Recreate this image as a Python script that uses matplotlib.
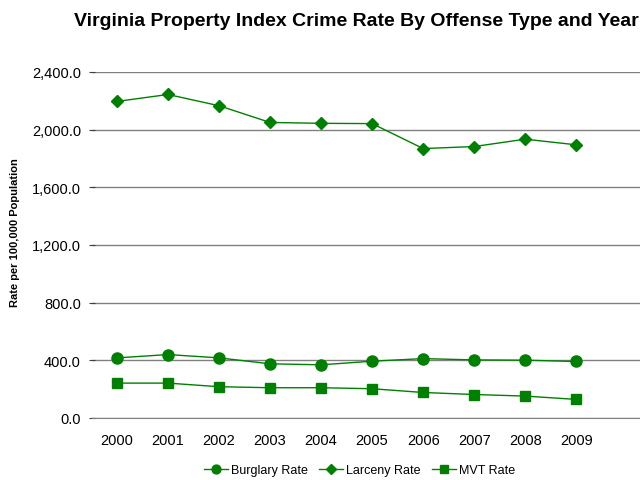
import numpy as np
import matplotlib.pyplot as plt

plt.rcParams['font.family'] = ['Liberation Sans', 'DejaVu Sans']

# Данные
years = ['2000', '2001', '2002', '2003', '2004', '2005', '2006', '2007', '2008', '2009']
burglary = [417, 440, 417, 376, 369, 394, 412, 403, 401, 392]
larceny = [2196, 2244, 2166, 2050, 2044, 2042, 1869, 1883, 1934, 1895]
mvt = [242, 242, 217, 210, 210, 203, 177, 163, 152, 129]
y_ticks = [0, 400, 800, 1200, 1600, 2000, 2400]

green = '#008000'

fig = plt.figure(figsize=(6.4, 4.81), dpi=100)
ax = fig.add_axes([92 / 640, 62 / 481, 548 / 640, 346 / 481])

x = np.arange(len(years))
ax.plot(x, burglary, color=green, lw=1, marker='o', ms=8, label='Burglary Rate')
ax.plot(x, larceny, color=green, lw=1, marker='D', ms=6.5, label='Larceny Rate')
ax.plot(x, mvt, color=green, lw=1, marker='s', ms=7.5, label='MVT Rate')

ax.set_xlim(-0.49, 10.25)
ax.set_ylim(0, 2400)
ax.set_xticks(x)
ax.set_xticklabels(years, fontsize=10.5)
ax.set_yticks(y_ticks)
ax.set_yticklabels(['{:,.1f}'.format(v) for v in y_ticks], fontsize=10.5)
ax.tick_params(axis='x', length=0, pad=11)
ax.tick_params(axis='y', length=4, direction='inout', color='#404040', pad=6)

ax.grid(axis='y', color='#808080', lw=1)
ax.set_axisbelow(True)
for s in ['top', 'right', 'left']:
    ax.spines[s].set_visible(False)
ax.spines['bottom'].set_color('#808080')

ax.set_ylabel('Rate per 100,000 Population', fontsize=8, fontweight='bold')
ax.yaxis.set_label_coords(-0.131, 0.54)
fig.text(0.557, 0.955, 'Virginia Property Index Crime Rate By Offense Type and Year',
         ha='center', va='center', fontsize=14, fontweight='bold')

fig.legend(loc='center', bbox_to_anchor=(0.562, 0.021), ncol=3, frameon=False,
           fontsize=9, handlelength=1.9, handletextpad=0.25, columnspacing=0.9,
           markerscale=0.8)

fig.savefig('out.png', dpi=100)
